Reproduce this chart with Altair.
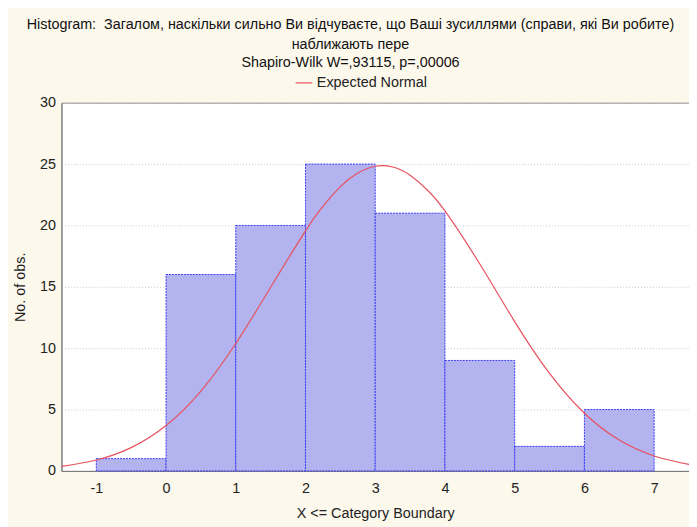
import altair as alt
import pandas as pd

# Histogram bins (X <= category boundary)
bin_start = [-1, 0, 1, 2, 3, 4, 5, 6]
bin_end = [0, 1, 2, 3, 4, 5, 6, 7]
counts = [1, 16, 20, 25, 21, 9, 2, 5]

# Expected normal curve
curve_x = [-1.5, -1.0, -0.5, 0.0, 0.5, 1.0, 1.5, 2.0, 2.25, 2.5, 2.75, 3.0, 3.25, 3.5,
           3.75, 4.0, 4.5, 5.0, 5.5, 6.0, 6.5, 7.0, 7.5]
curve_y = [0.37, 0.89, 1.90, 3.70, 6.51, 10.38, 14.96, 19.56, 21.55, 23.16, 24.27, 24.82,
           24.76, 24.09, 22.87, 21.18, 16.86, 12.16, 7.94, 4.70, 2.51, 1.22, 0.53]

x_ticks = [-1, 0, 1, 2, 3, 4, 5, 6, 7]
y_ticks = [0, 5, 10, 15, 20, 25, 30]

bars = pd.DataFrame({"start": bin_start, "end": bin_end, "count": counts})
curve = pd.DataFrame({"x": curve_x, "y": curve_y, "series": ["Expected Normal"] * len(curve_x)})

FONT = "Liberation Sans"
FS = 14.5

xscale = alt.Scale(domain=[-1.5, 7.5], nice=False, zero=False)
yscale = alt.Scale(domain=[0, 30], nice=False)

xaxis = alt.Axis(values=x_ticks, labelExpr="'' + datum.value", title="X <= Category Boundary",
                 grid=False, ticks=False, labelPadding=11, titlePadding=12, labelFontSize=FS,
                 titleFontSize=FS, labelFont=FONT, titleFont=FONT, titleFontWeight="normal",
                 labelColor="#222", titleColor="#222", domainColor="#777")
yaxis = alt.Axis(values=y_ticks, title="No. of obs.", grid=True, gridDash=[1, 2],
                 gridColor="#c8c8c8", ticks=False, labelPadding=6, titlePadding=12,
                 labelFontSize=FS, titleFontSize=FS, labelFont=FONT, titleFont=FONT,
                 titleFontWeight="normal", labelColor="#222", titleColor="#222",
                 domainColor="#777")

bar_layer = alt.Chart(bars).mark_rect(
    fill="#b3b3ef", stroke="#3b3bf5", strokeWidth=1, strokeDash=[2, 1]
).encode(
    x=alt.X("start:Q", scale=xscale, axis=xaxis),
    x2="end:Q",
    y=alt.Y("count:Q", scale=yscale, axis=yaxis),
    y2=alt.datum(0),
)

line_layer = alt.Chart(curve).mark_line(strokeWidth=1.2, interpolate="natural").encode(
    x=alt.X("x:Q", scale=xscale),
    y=alt.Y("y:Q", scale=yscale),
    color=alt.Color("series:N", scale=alt.Scale(range=["#e8505e"]),
                    legend=alt.Legend(title=None, orient="none", legendX=236, legendY=-29,
                                      symbolType="stroke", symbolSize=280,
                                      symbolStrokeWidth=1.2, labelFontSize=FS,
                                      labelFont=FONT, labelColor="#222")),
)

chart = alt.layer(bar_layer, line_layer).properties(
    width=634,
    height=372,
    autosize=alt.AutoSizeParams(type="none"),
    padding={"left": 54, "top": 93, "right": 0, "bottom": 56},
    background="#fdf8ec",
    title=alt.TitleParams(
        text=["Histogram:\u00a0 Загалом, наскільки сильно Ви відчуваєте, що Ваші зусиллями (справи, які Ви робите)",
              "наближають пере"],
        subtitle="Shapiro-Wilk W=,93115, p=,00006",
        anchor="middle", frame="group", dx=-25, offset=4,
        font=FONT, fontSize=FS, fontWeight="normal", color="#111", lineHeight=20,
        subtitleFont=FONT, subtitleFontSize=FS, subtitleColor="#111",
        subtitlePadding=3, subtitleLineHeight=20,
    ),
).configure_view(stroke="#888", strokeWidth=1, fill="white")

chart.save("out.html", embed_options={"renderer": "svg", "actions": False})
